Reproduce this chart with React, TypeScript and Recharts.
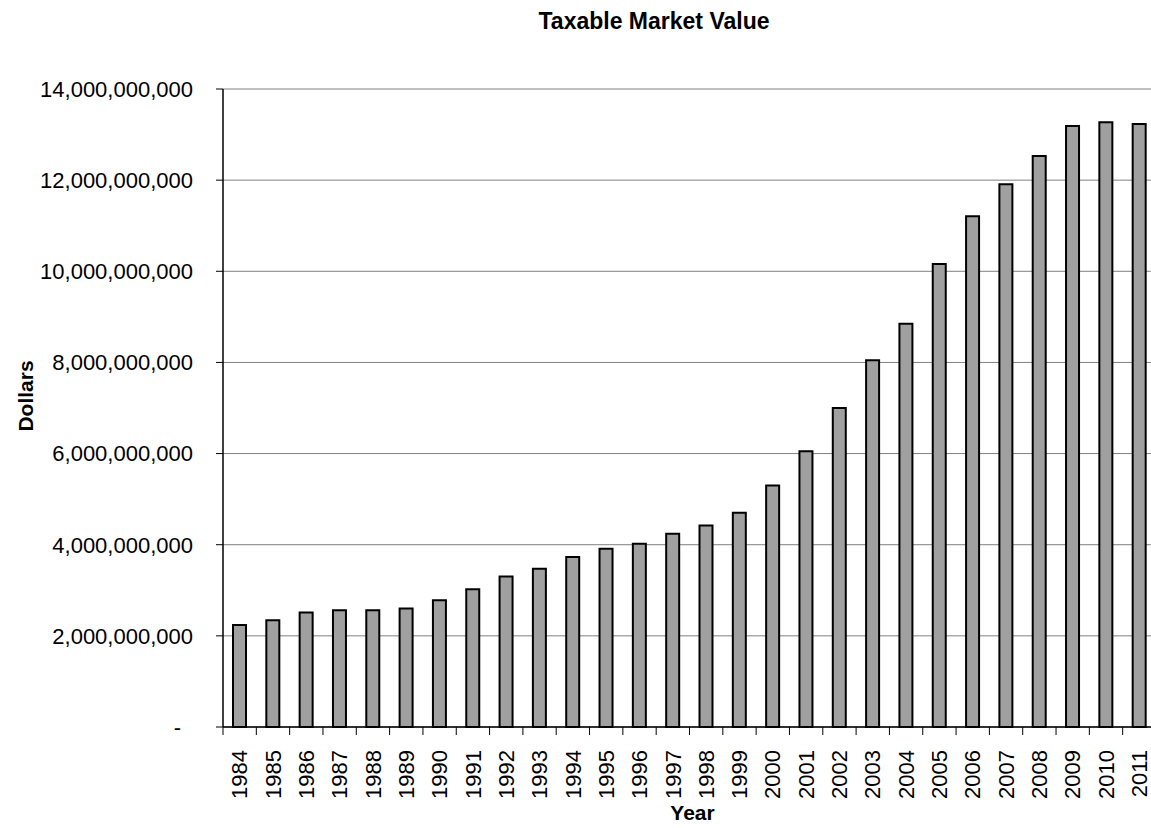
import { Bar, BarChart, CartesianGrid, Label, XAxis, YAxis } from 'recharts'

const years = [
  '1984', '1985', '1986', '1987', '1988', '1989', '1990', '1991', '1992', '1993',
  '1994', '1995', '1996', '1997', '1998', '1999', '2000', '2001', '2002', '2003',
  '2004', '2005', '2006', '2007', '2008', '2009', '2010', '2011',
]

// taxable market value, in billions of dollars
const valueBillions = [
  2.24, 2.34, 2.51, 2.56, 2.56, 2.6, 2.78, 3.02, 3.3, 3.47,
  3.73, 3.91, 4.02, 4.24, 4.42, 4.7, 5.3, 6.05, 7.0, 8.05,
  8.85, 10.16, 11.21, 11.91, 12.53, 13.19, 13.27, 13.23,
]

const yTicks = [0, 2e9, 4e9, 6e9, 8e9, 10e9, 12e9, 14e9]

const data = years.map((year, i) => ({ year, value: valueBillions[i] * 1e9 }))

const FONT = '"Liberation Sans", Arial, sans-serif'
const CHART_W = 1156
const CHART_H = 828
const Y_AXIS_W = 223
const BAND = (CHART_W - Y_AXIS_W) / years.length

function YearTick({ x, y, payload }: any) {
  const left = x - BAND / 2
  return (
    <g>
      <line x1={left} y1={y} x2={left} y2={y + 8} stroke='#000' strokeWidth={1} />
      <text
        x={x}
        y={y + 23}
        dy='0.35em'
        transform={`rotate(-90 ${x} ${y + 23})`}
        textAnchor='end'
        fontFamily={FONT}
        fontSize={22}
        fill='#000'
      >
        {payload.value}
      </text>
    </g>
  )
}

function DollarTick({ x, y, payload }: any) {
  const isZero = payload.value === 0
  return (
    <text
      x={isZero ? x - 12 : x}
      y={y}
      dy='0.355em'
      textAnchor='end'
      fontFamily={FONT}
      fontSize={22}
      fill='#000'
    >
      {isZero ? '-' : payload.value.toLocaleString('en-US')}
    </text>
  )
}

export default function App() {
  return (
    <div
      style={{
        position: 'absolute',
        left: 0,
        top: 0,
        width: 1151,
        height: 828,
        overflow: 'hidden',
        background: '#fff',
      }}
    >
      <div
        style={{
          position: 'absolute',
          left: 0,
          width: 1308,
          top: 8,
          textAlign: 'center',
          fontFamily: FONT,
          fontWeight: 'bold',
          fontSize: 23,
          color: '#000',
        }}
      >
        Taxable Market Value
      </div>
      <BarChart
        width={CHART_W}
        height={CHART_H}
        data={data}
        margin={{ top: 89, right: 0, bottom: 0, left: 0 }}
        barSize={13}
      >
        <CartesianGrid vertical={false} stroke='#808080' strokeWidth={1} />
        <XAxis
          dataKey='year'
          height={101}
          interval={0}
          tickSize={0}
          tickMargin={0}
          tick={<YearTick />}
          axisLine={{ stroke: '#000', strokeWidth: 1.5 }}
        >
          <Label
            content={({ viewBox }: any) => (
              <text
                x={viewBox.x + viewBox.width / 2 + 3}
                y={viewBox.y + 93}
                textAnchor='middle'
                fontFamily={FONT}
                fontWeight='bold'
                fontSize={21}
                fill='#000'
              >
                Year
              </text>
            )}
          />
        </XAxis>
        <YAxis
          width={Y_AXIS_W}
          domain={[0, 14e9]}
          ticks={yTicks}
          interval={0}
          tickSize={7}
          tickMargin={23}
          tick={<DollarTick />}
          axisLine={{ stroke: '#000', strokeWidth: 1.5 }}
          tickLine={{ stroke: '#000' }}
        >
          <Label
            content={({ viewBox }: any) => {
              const cy = viewBox.y + viewBox.height / 2 - 12
              return (
                <text
                  x={33}
                  y={cy}
                  transform={`rotate(-90 33 ${cy})`}
                  textAnchor='middle'
                  fontFamily={FONT}
                  fontWeight='bold'
                  fontSize={21}
                  fill='#000'
                >
                  Dollars
                </text>
              )
            }}
          />
        </YAxis>
        <Bar
          dataKey='value'
          fill='#a0a0a0'
          stroke='#000'
          strokeWidth={2}
          isAnimationActive={false}
        />
      </BarChart>
    </div>
  )
}
